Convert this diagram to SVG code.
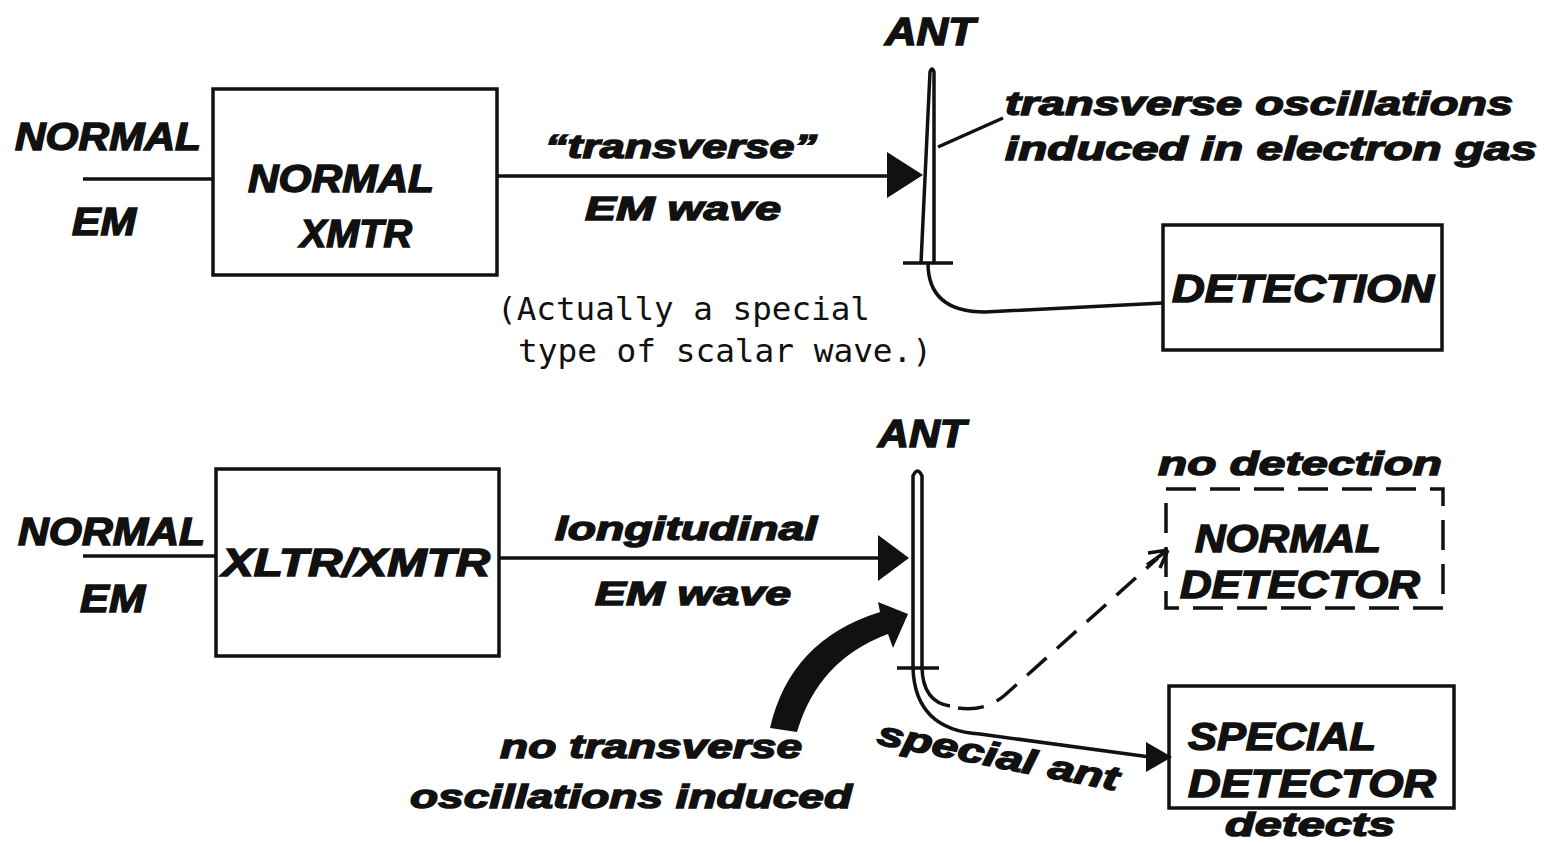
<svg xmlns="http://www.w3.org/2000/svg" width="1547" height="843" viewBox="0 0 1547 843">
<style>
.t{font-family:"Liberation Sans",Arial,sans-serif;font-weight:bold;font-style:italic;fill:#111;stroke:#111;stroke-width:1.5}
.m{font-family:"DejaVu Sans Mono","Liberation Mono",monospace;fill:#111}
.ln{fill:none;stroke:#111;stroke-width:3.5}
.bx{fill:none;stroke:#111;stroke-width:3.5}
.ah{fill:#111}
</style>
<rect width="1547" height="843" fill="#fff"/>

<!-- Top row -->
<g id="input-top">
<text class="t" x="15" y="150" font-size="38" textLength="186" lengthAdjust="spacingAndGlyphs">NORMAL</text>
<text class="t" x="72" y="235" font-size="38" textLength="64" lengthAdjust="spacingAndGlyphs">EM</text>
</g>
<g id="normal-xmtr">
<rect class="bx" x="213" y="89" width="284" height="186"/>
<text class="t" x="248" y="192" font-size="38" textLength="186" lengthAdjust="spacingAndGlyphs">NORMAL</text>
<text class="t" x="300" y="247" font-size="38" textLength="112" lengthAdjust="spacingAndGlyphs">XMTR</text>
</g>
<g id="ant-top">
<text class="t" x="885" y="45" font-size="38" textLength="90" lengthAdjust="spacingAndGlyphs">ANT</text>
<path class="ln" stroke-width="4" stroke-linejoin="round" d="M921,263 L930,72 Q932,66 934,72 L934,263"/>
<path class="ln" d="M903,263 L953,263"/>
</g>
<g id="top-labels">
<text class="t" x="545" y="158" font-size="34" textLength="272" lengthAdjust="spacingAndGlyphs">“transverse”</text>
<text class="t" x="585" y="220" font-size="34" textLength="196" lengthAdjust="spacingAndGlyphs">EM wave</text>
<text class="t" x="1005" y="115" font-size="34" textLength="508" lengthAdjust="spacingAndGlyphs">transverse oscillations</text>
<text class="t" x="1005" y="160" font-size="34" textLength="532" lengthAdjust="spacingAndGlyphs">induced in electron gas</text>
<text class="m" x="497" y="320" font-size="32" textLength="373" lengthAdjust="spacingAndGlyphs">(Actually a special</text>
<text class="m" x="518" y="362" font-size="32" textLength="414" lengthAdjust="spacingAndGlyphs">type of scalar wave.)</text>
</g>
<g id="detection">
<rect class="bx" x="1163" y="225" width="279" height="125"/>
<text class="t" x="1172" y="302" font-size="38" textLength="262" lengthAdjust="spacingAndGlyphs">DETECTION</text>
</g>

<!-- Bottom row -->
<g id="input-bottom">
<text class="t" x="18" y="545" font-size="38" textLength="187" lengthAdjust="spacingAndGlyphs">NORMAL</text>
<text class="t" x="80" y="612" font-size="38" textLength="65" lengthAdjust="spacingAndGlyphs">EM</text>
</g>
<g id="xltr-xmtr">
<rect class="bx" x="216" y="469" width="283" height="187"/>
<text class="t" x="222" y="576" font-size="38" textLength="268" lengthAdjust="spacingAndGlyphs">XLTR/XMTR</text>
</g>
<g id="ant-bottom">
<text class="t" x="878" y="447" font-size="38" textLength="88" lengthAdjust="spacingAndGlyphs">ANT</text>
<path class="ln" stroke-width="3.5" d="M913,668 L913,476 Q917.5,466 922,476 L922,668"/>
<path class="ln" d="M897,668 L939,668"/>
</g>
<g id="bottom-labels">
<text class="t" x="555" y="540" font-size="34" textLength="262" lengthAdjust="spacingAndGlyphs">longitudinal</text>
<text class="t" x="595" y="605" font-size="34" textLength="196" lengthAdjust="spacingAndGlyphs">EM wave</text>
<text class="t" x="500" y="758" font-size="34" textLength="302" lengthAdjust="spacingAndGlyphs">no transverse</text>
<text class="t" x="410" y="808" font-size="34" textLength="442" lengthAdjust="spacingAndGlyphs">oscillations induced</text>
<text class="t" x="0" y="0" font-size="34" textLength="245" lengthAdjust="spacingAndGlyphs" transform="translate(876,744) rotate(11)">special ant</text>
<text class="t" x="1158" y="475" font-size="34" textLength="284" lengthAdjust="spacingAndGlyphs">no detection</text>
<text class="t" x="1225" y="836" font-size="34" textLength="170" lengthAdjust="spacingAndGlyphs">detects</text>
</g>
<g id="normal-detector">
<rect class="bx" x="1166" y="489" width="277" height="119" stroke-dasharray="30 14"/>
<text class="t" x="1195" y="552" font-size="38" textLength="186" lengthAdjust="spacingAndGlyphs">NORMAL</text>
<text class="t" x="1180" y="598" font-size="38" textLength="240" lengthAdjust="spacingAndGlyphs">DETECTOR</text>
</g>
<g id="special-detector">
<rect class="bx" x="1169" y="686" width="285" height="122"/>
<text class="t" x="1188" y="750" font-size="38" textLength="188" lengthAdjust="spacingAndGlyphs">SPECIAL</text>
<text class="t" x="1188" y="797" font-size="38" textLength="248" lengthAdjust="spacingAndGlyphs">DETECTOR</text>
</g>

<g id="connectors">
<path class="ln" d="M83,179 L213,179"/>
<path class="ln" d="M497,176 L892,176"/>
<polygon class="ah" points="887,152 887,198 923,175"/>
<path class="ln" stroke-width="3" d="M938,147 L1003,118"/>
<path class="ln" d="M928,263 Q928,312 985,312 L1163,303"/>

<path class="ln" d="M83,556 L216,556"/>
<path class="ln" d="M499,558 L880,558"/>
<polygon class="ah" points="878,535 878,581 909,558"/>
<path class="ln" d="M913,668 Q915,730 980,734 L1150,757"/>
<polygon class="ah" points="1146,742 1146,772 1172,757"/>
<path class="ln" d="M922,668 Q923,702 950,706"/>
<path class="ln" stroke-dasharray="26 14" d="M958,708 Q985,712 1005,695 L1158,558"/>
<path class="ln" d="M1168,550 L1148,553 M1168,550 L1160,568 M1168,550 L1147,565"/>
<path fill="#111" d="M770,728 Q790,640 880,612 L878,602 L908,614 L893,648 L888,634 Q818,660 797,732 Z"/>
</g>
</svg>
